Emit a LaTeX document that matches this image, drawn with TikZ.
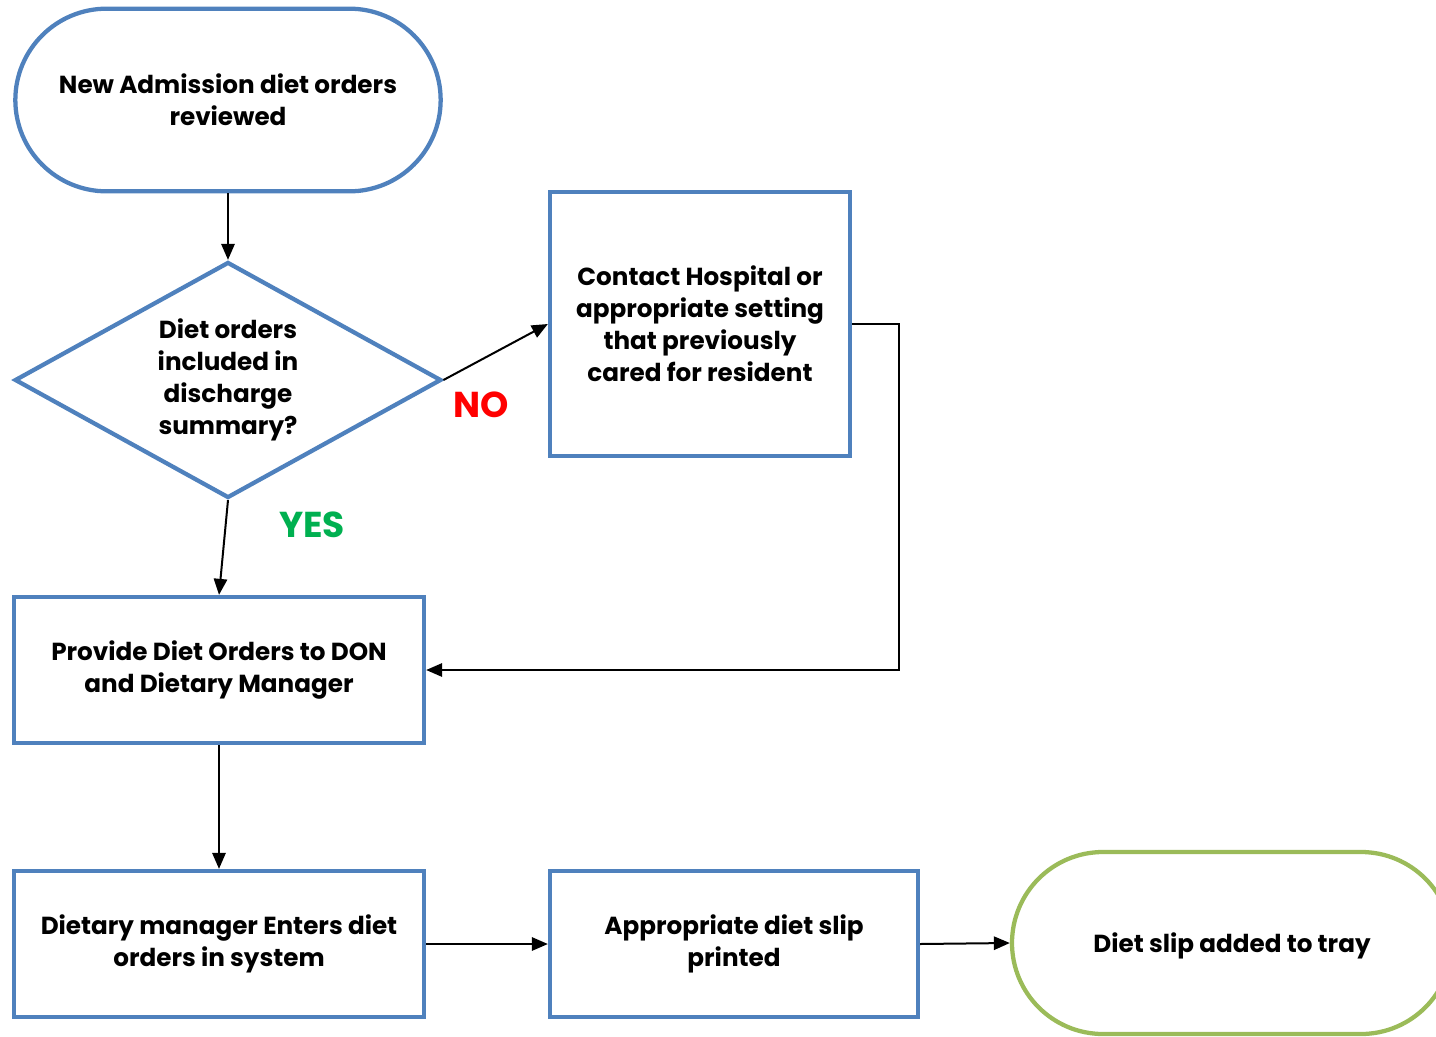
\documentclass[tikz,border=0pt]{standalone}
\usepackage{fontspec}
\setmainfont{Poppins}
\usetikzlibrary{shapes.geometric,shapes.misc,arrows.meta}
\definecolor{bblue}{RGB}{79,129,189}
\definecolor{lgreen}{RGB}{155,187,89}
\definecolor{yesgreen}{RGB}{0,176,80}
\definecolor{nored}{RGB}{255,0,0}
\begin{document}
\begin{tikzpicture}[x=0.75pt,y=-0.75pt,
  every node/.style={font=\bfseries\fontsize{18.5}{24}\selectfont, align=center, inner sep=0pt},
  lower/.style={execute at begin node={\rule{0pt}{19.5pt}}},
  term/.style={lower, rounded rectangle, draw=bblue, line width=3.2pt, fill=white},
  decis/.style={lower, diamond, aspect=1.81, draw=bblue, line width=3.2pt, fill=white},
  procbox/.style={lower, rectangle, draw=bblue, line width=3.2pt, fill=white},
  arr/.style={draw=black, line width=1.5pt, -{Triangle[length=12pt,width=10pt]}},
  lbl/.style={font=\bfseries\fontsize{27}{30}\selectfont}
]
\useasboundingbox (0,0) rectangle (1436,1036);
\node[term, minimum width=319pt, minimum height=137pt] (start) at (228,100) {New Admission diet orders\\reviewed};
\node[decis, minimum width=320pt, minimum height=177pt] (dec) at (228,380) {Diet orders\\included in\\discharge\\summary?};
\node[procbox, minimum width=225pt, minimum height=198pt] (contact) at (700,324) {Contact Hospital or\\appropriate setting\\that previously\\cared for resident};
\node[procbox, minimum width=307.5pt, minimum height=109.5pt] (provide) at (219,670) {Provide Diet Orders to DON\\and Dietary Manager};
\node[procbox, minimum width=307.5pt, minimum height=109.5pt] (enter) at (219,944) {Dietary manager Enters diet\\orders in system};
\node[procbox, minimum width=276pt, minimum height=109.5pt] (print) at (734,944) {Appropriate diet slip\\printed};
\node[term, draw=lgreen, minimum width=330pt, minimum height=136.5pt] (tray) at (1232,943) {Diet slip added to tray};
\node[lbl, text=nored] (no) at (481,405) {NO};
\node[lbl, text=yesgreen] (yes) at (312,525) {YES};
\draw[arr] (start.south) -- (dec.north);
\draw[arr] (dec.east) -- (contact.west);
\draw[arr] (dec.south) -- (provide.north);
\draw[arr] (contact.east) -- ++(47,0) |- (provide.east);
\draw[arr] (provide.south) -- (enter.north);
\draw[arr] (enter.east) -- (print.west);
\draw[arr] (print.east) -- (tray.west);
\end{tikzpicture}
\end{document}
